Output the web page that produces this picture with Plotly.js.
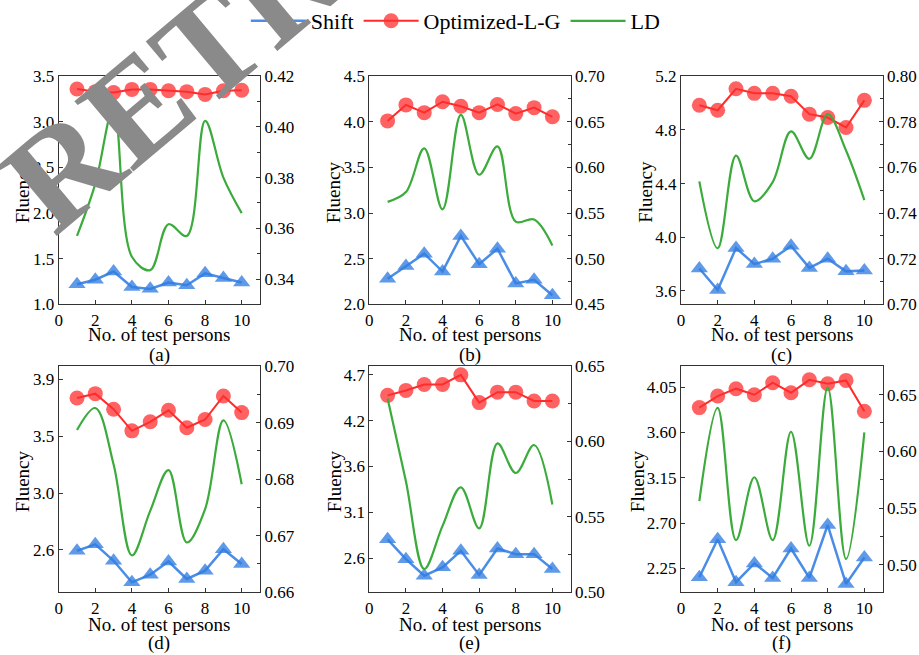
<!DOCTYPE html>
<html>
<head>
<meta charset="utf-8">
<script src="https://cdn.plot.ly/plotly-3.0.1.min.js"></script>
<style>html,body{margin:0;padding:0;background:#fff;}#chart{width:919px;height:655px;}</style>
</head>
<body>
<div id="chart"></div>
<script>
// ---------- data ----------
const persons = [1, 2, 3, 4, 5, 6, 7, 8, 9, 10];
const seriesNames = ["Shift", "Optimized-L-G", "LD"];
const panelLabels = ["(a)", "(b)", "(c)", "(d)", "(e)", "(f)"];
const xTitle = "No. of test persons";
const yTitle = "Fluency";

const shiftA = [1.22, 1.27, 1.36, 1.19, 1.17, 1.24, 1.21, 1.34, 1.29, 1.24];
const optA   = [3.36, 3.33, 3.32, 3.355, 3.355, 3.34, 3.33, 3.30, 3.34, 3.345];
const ldA    = [0.357, 0.3775, 0.4076, 0.3488, 0.3435, 0.3616, 0.357, 0.4024, 0.380, 0.366];

const shiftB = [2.28, 2.42, 2.555, 2.36, 2.75, 2.44, 2.61, 2.23, 2.27, 2.10];
const optB   = [4.01, 4.185, 4.10, 4.22, 4.17, 4.10, 4.19, 4.09, 4.155, 4.055];
const ldB    = [0.5623, 0.573, 0.621, 0.554, 0.6576, 0.592, 0.623, 0.5406, 0.543, 0.5145];

const shiftC = [3.767, 3.607, 3.92, 3.80, 3.84, 3.936, 3.772, 3.84, 3.746, 3.753];
const optC   = [4.983, 4.946, 5.106, 5.072, 5.072, 5.05, 4.917, 4.892, 4.818, 5.02];
const ldC    = [0.7539, 0.7246, 0.7652, 0.7452, 0.7536, 0.7758, 0.7638, 0.7833, 0.7674, 0.7457];

const shiftD = [2.613, 2.661, 2.539, 2.38, 2.436, 2.534, 2.405, 2.466, 2.625, 2.515];
const optD   = [3.743, 3.775, 3.66, 3.50, 3.567, 3.652, 3.523, 3.584, 3.758, 3.635];
const ldD    = [0.6887, 0.6926, 0.6826, 0.6665, 0.6744, 0.6816, 0.6688, 0.6747, 0.6904, 0.6791];

const shiftE = [2.798, 2.568, 2.377, 2.473, 2.664, 2.385, 2.691, 2.626, 2.626, 2.454];
const optE   = [4.463, 4.52, 4.589, 4.589, 4.70, 4.379, 4.50, 4.50, 4.398, 4.398];
const ldE    = [0.6285, 0.5736, 0.5154, 0.5440, 0.5696, 0.5424, 0.5988, 0.5791, 0.5977, 0.5582];

const shiftF = [2.161, 2.539, 2.112, 2.299, 2.155, 2.447, 2.155, 2.68, 2.095, 2.358];
const optF   = [3.846, 3.961, 4.034, 3.974, 4.093, 3.994, 4.122, 4.083, 4.116, 3.81];
const ldF    = [0.5562, 0.6383, 0.5219, 0.5772, 0.5219, 0.6173, 0.5169, 0.6563, 0.5052, 0.6167];

// tick values / labels (Origin-style rounded labels)
const xTickVals = [0, 2, 4, 6, 8, 10];
const leftTickValsA = [1.0, 1.5, 2.0, 2.5, 3.0, 3.5];
const leftTickValsB = [2.0, 2.5, 3.0, 3.5, 4.0, 4.5];
const leftTickValsC = [3.6, 4.0, 4.4, 4.8, 5.2];
const leftTickValsD = [2.62, 3.04, 3.46, 3.88];
const leftTickTextD = ["2.6", "3.0", "3.5", "3.9"];
const leftTickValsE = [2.58, 3.11, 3.64, 4.17, 4.70];
const leftTickTextE = ["2.6", "3.1", "3.6", "4.2", "4.7"];
const leftTickValsF = [2.25, 2.70, 3.15, 3.60, 4.05];
const rightTickValsA = [0.34, 0.36, 0.38, 0.40, 0.42];
const rightTickValsB = [0.45, 0.50, 0.55, 0.60, 0.65, 0.70];
const rightTickValsC = [0.70, 0.72, 0.74, 0.76, 0.78, 0.80];
const rightTickValsD = [0.66, 0.67, 0.68, 0.69, 0.70];
const rightTickValsE = [0.50, 0.55, 0.60, 0.65];
const rightTickValsF = [0.50, 0.55, 0.60, 0.65];
const watermark = "RETRACTED";

// ---------- styling / layout ----------
const FONT = "Liberation Serif";
const panels = [
  {s: shiftA, o: optA, l: ldA, lr: [1.0, 3.5], rr: [0.33, 0.42], lt: leftTickValsA, ltt: leftTickValsA.map(v => v.toFixed(1)), rt: rightTickValsA, rm: 0.01},
  {s: shiftB, o: optB, l: ldB, lr: [2.0, 4.5], rr: [0.45, 0.70], lt: leftTickValsB, ltt: leftTickValsB.map(v => v.toFixed(1)), rt: rightTickValsB, rm: 0.025},
  {s: shiftC, o: optC, l: ldC, lr: [3.5, 5.2], rr: [0.70, 0.80], lt: leftTickValsC, ltt: leftTickValsC.map(v => v.toFixed(1)), rt: rightTickValsC, rm: 0.01},
  {s: shiftD, o: optD, l: ldD, lr: [2.307, 3.978], rr: [0.66, 0.70], lt: leftTickValsD, ltt: leftTickTextD, rt: rightTickValsD, rm: 0.005},
  {s: shiftE, o: optE, l: ldE, lr: [2.186, 4.80], rr: [0.50, 0.65], lt: leftTickValsE, ltt: leftTickTextE, rt: rightTickValsE, rm: 0.025},
  {s: shiftF, o: optF, l: ldF, lr: [2.013, 4.257], rr: [0.476, 0.675], lt: leftTickValsF, ltt: leftTickValsF.map(v => v.toFixed(2)), rt: rightTickValsF, rm: 0.025}
];

const W = 919, H = 655;
const colsPx = [[58.7, 260], [369.3, 570.7], [681, 882.7]];
const rowsPx = [[71.7, 301.7], [364, 591.7]];
const fluencyX = [[22, 333, 645.5], [22, 334, 637]];

const traces = [];
const layout = {
  width: W, height: H,
  margin: {l: 0, r: 0, t: 0, b: 0},
  paper_bgcolor: "#fff", plot_bgcolor: "rgba(0,0,0,0)",
  font: {family: FONT, color: "#000", size: 17},
  showlegend: true,
  legend: {orientation: "h", x: 0.496, xanchor: "center", y: 1.008, yanchor: "top",
           font: {family: FONT, size: 22, color: "#000"}, itemwidth: 55, tracegroupgap: 0, bgcolor: "rgba(0,0,0,0)"},
  annotations: []
};

const axCommon = {showline: true, linecolor: "#333", linewidth: 1, showgrid: false, zeroline: false,
  ticks: "inside", ticklen: 4, tickcolor: "#333", tickfont: {family: FONT, size: 17, color: "#000"}};

panels.forEach((p, i) => {
  const row = Math.floor(i / 3), col = i % 3;
  const n = i + 1;
  const xa = "x" + (n === 1 ? "" : n), ya = "y" + (n === 1 ? "" : n), yr = "y" + (n + 6);
  const xd = [colsPx[col][0] / W, colsPx[col][1] / W];
  const yd = [1 - rowsPx[row][1] / H, 1 - rowsPx[row][0] / H];
  layout["xaxis" + (n === 1 ? "" : n)] = Object.assign({}, axCommon, {
    domain: xd, anchor: ya, range: [0, 11], tickvals: xTickVals, mirror: true
  });
  layout["yaxis" + (n === 1 ? "" : n)] = Object.assign({}, axCommon, {
    domain: yd, anchor: xa, range: p.lr, tickvals: p.lt, ticktext: p.ltt, side: "left"
  });
  layout["yaxis" + (n + 6)] = Object.assign({}, axCommon, {
    overlaying: ya, anchor: xa, side: "right", range: p.rr, tickvals: p.rt,
    ticktext: p.rt.map(v => v.toFixed(2)),
    minor: {ticks: "inside", ticklen: 3, dtick: p.rm, tick0: p.rt[0], tickcolor: "#333"}
  });
  const first = i === 0;
  traces.push({x: persons, y: p.l, xaxis: xa, yaxis: yr, type: "scatter", mode: "lines",
    name: seriesNames[2], legendrank: 3, showlegend: first, legendgroup: "ld",
    line: {color: "#3bab3b", width: 2.2, shape: "spline", smoothing: 1.0}});
  traces.push({x: persons, y: p.s, xaxis: xa, yaxis: ya, type: "scatter", mode: "lines+markers",
    name: seriesNames[0], legendrank: 1, showlegend: first, legendgroup: "shift",
    line: {color: "#4a8de6", width: 2.5},
    marker: {symbol: "triangle-up", size: 15, color: "rgba(50,125,225,0.78)", line: {width: 0}}});
  traces.push({x: persons, y: p.o, xaxis: xa, yaxis: ya, type: "scatter", mode: "lines+markers",
    name: seriesNames[1], legendrank: 2, showlegend: first, legendgroup: "opt",
    line: {color: "#ff2a2a", width: 2},
    marker: {symbol: "circle", size: 15, color: "rgba(255,45,45,0.75)", line: {width: 0}}});

  const cx = (colsPx[col][0] + colsPx[col][1]) / 2;
  const xtY = row === 0 ? 332 : 624;
  const lbY = row === 0 ? 352.5 : 642.5;
  layout.annotations.push({xref: "paper", yref: "paper", x: cx / W, y: 1 - xtY / H, text: xTitle,
    showarrow: false, xanchor: "center", yanchor: "middle", font: {family: FONT, size: 19, color: "#000"}});
  layout.annotations.push({xref: "paper", yref: "paper", x: cx / W, y: 1 - lbY / H, text: panelLabels[i],
    showarrow: false, xanchor: "center", yanchor: "middle", font: {family: FONT, size: 19, color: "#000"}});
  const cy = (rowsPx[row][0] + rowsPx[row][1]) / 2 + 2;
  layout.annotations.push({xref: "paper", yref: "paper", x: fluencyX[row][col] / W, y: 1 - cy / H, text: yTitle,
    showarrow: false, textangle: -90, xanchor: "center", yanchor: "middle", font: {family: FONT, size: 19, color: "#000"}});
});

// watermark overlay
layout.annotations.push({xref: "paper", yref: "paper", x: 360 / W, y: 1 + 86 / H, text: watermark,
  showarrow: false, textangle: -40, xanchor: "center", yanchor: "middle",
  font: {family: FONT, size: 140, weight: "bold", color: "#8a8a8a"}});

Plotly.newPlot("chart", traces, layout, {staticPlot: true, displayModeBar: false});
</script>
</body>
</html>
